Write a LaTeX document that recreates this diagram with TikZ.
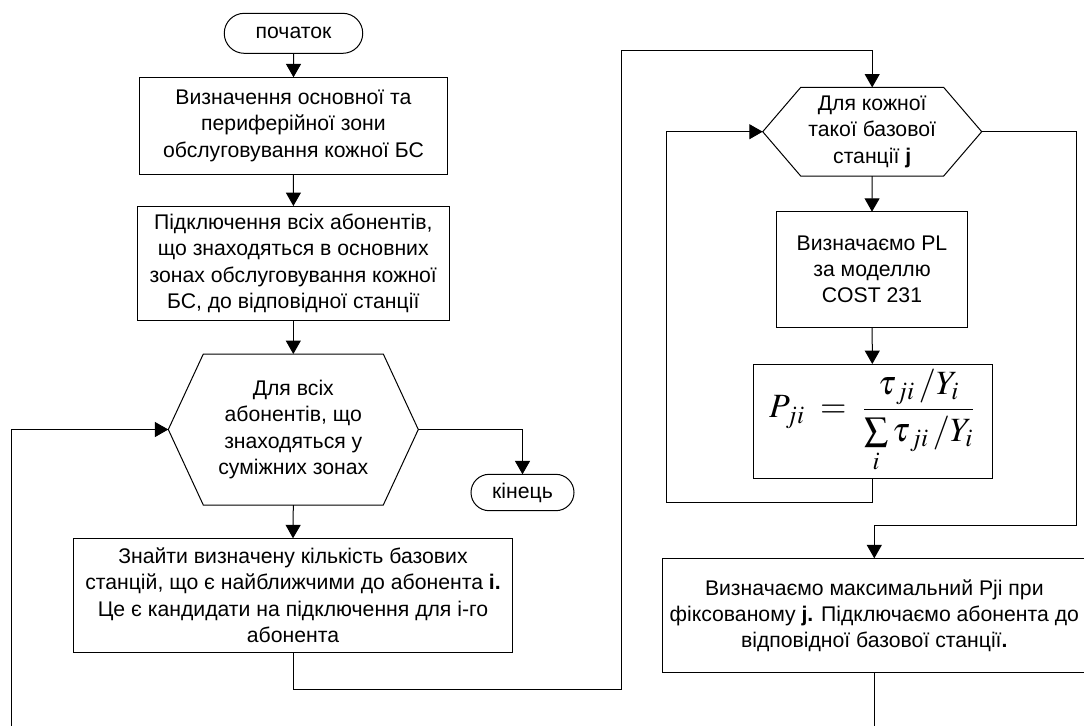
\documentclass[tikz,border=0pt]{standalone}
\usepackage{mathptmx}
\usepackage[no-math]{fontspec}
\setmainfont{Liberation Sans}
\usetikzlibrary{shapes.misc}
\usetikzlibrary{arrows.meta}

\begin{document}
\begin{tikzpicture}[x=0.5pt,y=-0.5pt,line width=0.5pt,
	every node/.style={font=\fontsize{10.6}{13.1}\selectfont,inner sep=0pt,outer sep=0pt},
	term/.style={draw,rounded rectangle,minimum height=20pt},
	block/.style={draw,rectangle,align=center},
	hexa/.style={rectangle,align=center},
	arr/.style={-{Triangle[length=6.7pt,width=7.5pt]}}]
	\useasboundingbox (0,0) rectangle (1084,725);
	% left column
	\node[term,minimum width=69.25pt] (start) at (293.5,33.3) {початок};
	\node[block,minimum width=154.2pt,minimum height=48.5pt] (zones) at (293.5,125.8)
		{Визначення основної та\\периферійної зони\\обслуговування кожної БС};
	\node[block,minimum width=155.7pt,minimum height=57.3pt] (connect) at (293.3,263.3)
		{Підключення всіх абонентів,\\що знаходяться в основних\\зонах обслуговування кожної\\БС, до відповідної станції};
	\node[hexa,minimum width=125pt,minimum height=75.5pt] (forall) at (293.3,429.5)
		{Для всіх\\абонентів, що\\знаходяться у\\суміжних зонах};
	\draw (forall.west) -- ([xshift=17.5pt]forall.north west) -- ([xshift=-17.5pt]forall.north east)
		-- (forall.east) -- ([xshift=-17.5pt]forall.south east) -- ([xshift=17.5pt]forall.south west) -- cycle;
	\node[term,minimum width=51.5pt,minimum height=18.2pt] (stop) at (522.5,492.5) {кінець};
	\node[block,minimum width=219.7pt,minimum height=56.9pt] (nearest) at (293,595.2)
		{Знайти визначену кількість базових\\станцій, що є найближчими до абонента \textbf{і.}\\Це є кандидати на підключення для і-го\\абонента};
	% right column
	\node[hexa,minimum width=109.5pt,minimum height=44.3pt] (foreach) at (872.2,131.7)
		{Для кожної\\такої базової\\станції \textbf{j}};
	\draw (foreach.west) -- ([xshift=19pt]foreach.north west) -- ([xshift=-19pt]foreach.north east)
		-- (foreach.east) -- ([xshift=-19pt]foreach.south east) -- ([xshift=19pt]foreach.south west) -- cycle;
	\node[block,minimum width=95.3pt,minimum height=57.8pt] (pathloss) at (872,269.5)
		{Визначаємо PL\\за моделлю\\COST 231};
	\node[block,minimum width=119.5pt,minimum height=57pt] (prob) at (872.5,421)
		{\fontsize{17}{20}\selectfont$\displaystyle P_{ji} \;=\; \frac{\tau_{\,ji}\,/Y_i}{\sum\limits_i \tau_{\,ji}\,/Y_i}$};
	\node[block,minimum width=211.5pt,minimum height=57.2pt] (choose) at (874.3,615.5)
		{Визначаємо максимальний Pji при\\фіксованому \textbf{j.} Підключаємо абонента до\\відповідної базової станції\textbf{.}};
	% turning points
	\coordinate (loopA) at (621,689);
	\coordinate (loopB) at (621,50.7);
	\coordinate (loopC) at (666.7,502.3);
	\coordinate (loopD) at (1076.7,525);
	\coordinate (exitL) at (11.7,730);
	\coordinate (exitR) at (874.3,730);
	% connectors
	\draw[arr] (start) -- (zones);
	\draw[arr] (zones) -- (connect);
	\draw[arr] (connect) -- (forall);
	\draw[arr] (forall.east) -| (stop.north);
	\draw[arr] (forall.south) -- (nearest.north);
	\draw[arr] (nearest.south) |- (loopA) -- (loopB) -| (foreach.north);
	\draw[arr] (foreach.south) -- (pathloss.north);
	\draw[arr] (pathloss) -- (prob);
	\draw[arr] (prob.south) |- (loopC) |- (foreach.west);
	\draw[arr] (foreach.east) -| (loopD) -| (choose.north);
	\draw (choose.south) -- (exitR);
	\draw[arr] (exitL) |- (forall.west);
\end{tikzpicture}
\end{document}
